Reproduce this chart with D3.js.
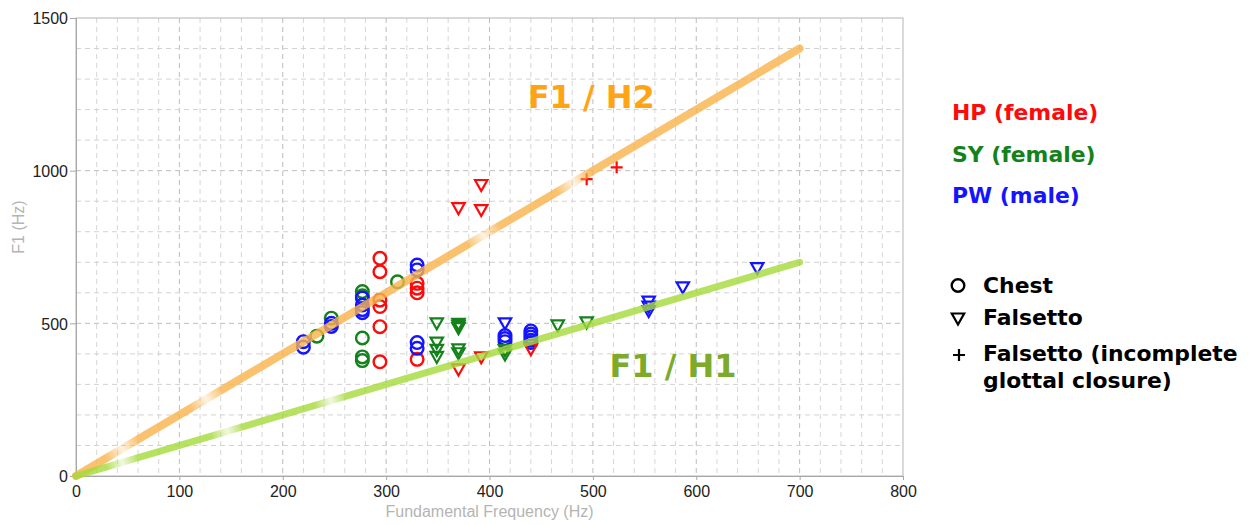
<!DOCTYPE html>
<html>
<head>
<meta charset="utf-8">
<script src="https://cdn.jsdelivr.net/npm/d3@7"></script>
<style>
  html, body { margin: 0; padding: 0; background: #fff; }
  svg { display: block; }
  .tick text { font-family: "Liberation Sans", Arial, sans-serif; font-size: 16px; fill: #222; }
  .axis-title { font-family: "Liberation Sans", Arial, sans-serif; font-size: 16px; fill: #b4b4b4; }
  .legend-text { font-family: "DejaVu Sans", sans-serif; font-weight: bold; font-size: 21.9px; }
  .ratio-label { font-family: "DejaVu Sans", sans-serif; font-weight: bold; font-size: 32px; }
</style>
</head>
<body>
<div id="chart"></div>
<script>
// ---- data: [fundamental frequency (Hz), F1 (Hz)] ----
const hpChest     = [[294,713],[294,669],[294,576],[294,555],[294,489],[294,374],
                     [330,631],[330,615],[330,600],[330,382]];
const hpFalsetto  = [[370,877],[370,349],[392,953],[392,871],[392,389],[440,415]];
const hpIncomplete = [[494,972],[523,1011]];

const syChest     = [[233,458],[247,517],[277,604],[277,590],[277,452],[277,390],[277,378],[311,636]];
const syFalsetto  = [[349,500],[349,437],[349,413],[349,390],
                     [370,498],[370,492],[370,484],[370,415],[370,402],
                     [415,412],[415,398],[466,493],[494,503]];

const pwChest     = [[220,440],[220,422],[247,500],[247,490],
                     [277,583],[277,560],[277,545],[277,535],
                     [330,691],[330,675],[330,437],[330,418],
                     [415,460],[415,450],[415,440],
                     [440,475],[440,465],[440,455],[440,445],[440,437]];
const pwFalsetto  = [[415,500],[554,571],[554,555],[554,540],[587,618],[659,681]];

// harmonic reference lines F1 = n * f0
const harmonics = [2, 1];
const harmonicNames = ["F1 / H2", "F1 / H1"];
const lineEndF0 = 700;

const xTicks = [0, 100, 200, 300, 400, 500, 600, 700, 800];
const yTicks = [0, 500, 1000, 1500];

const speakers = ["HP (female)", "SY (female)", "PW (male)"];
const phonations = ["Chest", "Falsetto", "Falsetto (incomplete", "glottal closure)"];

// ---- layout ----
const W = 1251, H = 525;
const margin = {top: 18, right: 348, bottom: 49, left: 76};
const innerW = W - margin.left - margin.right;
const innerH = H - margin.top - margin.bottom;

const colors = {HP: "#ff0a0a", SY: "#14821a", PW: "#1414ff"};

const svg = d3.select("#chart").append("svg")
    .attr("width", W).attr("height", H);

const g = svg.append("g")
    .attr("transform", "translate(" + margin.left + "," + margin.top + ")");

const x = d3.scaleLinear().domain([0, 800]).range([0, innerW]);
const y = d3.scaleLinear().domain([0, 1500]).range([innerH, 0]);

// grid
const vGrid = d3.range(20, 800, 20);
const hGrid = d3.range(100, 1500, 100);
g.append("g").selectAll("line").data(vGrid).enter().append("line")
    .attr("x1", d => x(d)).attr("x2", d => x(d))
    .attr("y1", 0).attr("y2", innerH)
    .attr("stroke", d => d % 100 === 0 ? "#bdbdbd" : "#d6d6d6")
    .attr("stroke-dasharray", "5,4");
g.append("g").selectAll("line").data(hGrid).enter().append("line")
    .attr("x1", 0).attr("x2", innerW)
    .attr("y1", d => y(d)).attr("y2", d => y(d))
    .attr("stroke", d => d % 500 === 0 ? "#bdbdbd" : "#d2d2d2")
    .attr("stroke-dasharray", "5,4");

// frame
g.append("rect")
    .attr("x", 0).attr("y", 0).attr("width", innerW).attr("height", innerH)
    .attr("fill", "none").attr("stroke", "#b4b4b4");

// axes
const xAxis = g.append("g")
    .attr("transform", "translate(0," + innerH + ")")
    .call(d3.axisBottom(x).tickValues(xTicks).tickFormat(d3.format("d")).tickSize(4).tickPadding(6));
const yAxis = g.append("g")
    .call(d3.axisLeft(y).tickValues(yTicks).tickFormat(d3.format("d")).tickSize(6).tickPadding(2));
[xAxis, yAxis].forEach(a => {
    a.select(".domain").attr("stroke", "#a8a8a8");
    a.selectAll(".tick line").attr("stroke", "#a8a8a8");
});
yAxis.selectAll(".tick text").attr("dy", "0.36em");

g.append("text").classed("axis-title", true)
    .attr("x", innerW / 2).attr("y", innerH + 41)
    .attr("text-anchor", "middle")
    .text("Fundamental Frequency (Hz)");
g.append("text").classed("axis-title", true)
    .attr("transform", "translate(" + (-52) + "," + (innerH / 2 - 20) + ") rotate(-90)")
    .attr("text-anchor", "middle")
    .text("F1 (Hz)");

// harmonic lines as soft brush strokes (drawn with partial fades)
const lineStyles = [
    {color: "#f9b44c", fades: [0.064, 0.18, 0.563, 0.687], labelColor: "#ffa414", label: [437, 1205]},
    {color: "#a6da3a", fades: [0.064, 0.209, 0.352], labelColor: "#7daa2b", label: [516, 324]}
];
const defs = svg.append("defs");
const lineLayer = g.append("g");
harmonics.forEach((n, i) => {
    const st = lineStyles[i];
    const grad = defs.append("linearGradient")
        .attr("id", "grad" + i)
        .attr("gradientUnits", "userSpaceOnUse")
        .attr("x1", x(0)).attr("y1", y(0))
        .attr("x2", x(lineEndF0)).attr("y2", y(lineEndF0 * n));
    grad.append("stop").attr("offset", 0).attr("stop-color", st.color).attr("stop-opacity", 1);
    st.fades.forEach(f => {
        grad.append("stop").attr("offset", f - 0.022).attr("stop-color", st.color).attr("stop-opacity", 1);
        grad.append("stop").attr("offset", f).attr("stop-color", st.color).attr("stop-opacity", 0.2);
        grad.append("stop").attr("offset", f + 0.022).attr("stop-color", st.color).attr("stop-opacity", 1);
    });
    grad.append("stop").attr("offset", 1).attr("stop-color", st.color).attr("stop-opacity", 1);

    lineLayer.append("line")
        .attr("x1", x(0)).attr("y1", y(0))
        .attr("x2", x(lineEndF0)).attr("y2", y(lineEndF0 * n))
        .attr("stroke", "url(#grad" + i + ")")
        .attr("stroke-width", n === 2 ? 8 : 7)
        .attr("stroke-linecap", "round")
        .attr("opacity", 0.8);

    g.append("text").classed("ratio-label", true)
        .attr("x", x(st.label[0])).attr("y", y(st.label[1]))
        .attr("fill", st.labelColor)
        .text(harmonicNames[i]);
});

// markers
const pointLayer = g.append("g");
function drawMarkers(layer, pts, kind, color) {
    const sel = layer.append("g").selectAll("path").data(pts).enter();
    if (kind === "circle") {
        sel.append("circle")
            .attr("cx", d => x(d[0])).attr("cy", d => y(d[1]))
            .attr("r", 6.3)
            .attr("fill", "none").attr("stroke", color).attr("stroke-width", 2.4);
    } else if (kind === "tri") {
        sel.append("path")
            .attr("transform", d => "translate(" + x(d[0]) + "," + y(d[1]) + ")")
            .attr("d", "M-6.2,-5L6.2,-5L0,6Z")
            .attr("fill", "none").attr("stroke", color).attr("stroke-width", 2.2)
            .attr("stroke-linejoin", "miter");
    } else {
        sel.append("path")
            .attr("transform", d => "translate(" + x(d[0]) + "," + y(d[1]) + ")")
            .attr("d", "M-6,0L6,0M0,-6L0,6")
            .attr("stroke", color).attr("stroke-width", 2.2);
    }
}
drawMarkers(pointLayer, syChest, "circle", colors.SY);
drawMarkers(pointLayer, hpChest, "circle", colors.HP);
drawMarkers(pointLayer, pwChest, "circle", colors.PW);
drawMarkers(pointLayer, syFalsetto, "tri", colors.SY);
drawMarkers(pointLayer, hpFalsetto, "tri", colors.HP);
drawMarkers(pointLayer, pwFalsetto, "tri", colors.PW);
drawMarkers(pointLayer, hpIncomplete, "plus", colors.HP);

// keep the translucent harmonic strokes above the markers
lineLayer.raise();

// legend
const legend = svg.append("g");
const speakerColors = [colors.HP, colors.SY, colors.PW];
legend.selectAll("text.spk").data(speakers).enter().append("text")
    .classed("legend-text", true)
    .attr("x", 952).attr("y", (d, i) => 120 + i * 41.5)
    .attr("fill", (d, i) => speakerColors[i])
    .text(d => d);

const phonY = [293, 325, 361, 388];
legend.selectAll("text.ph").data(phonations).enter().append("text")
    .classed("legend-text", true)
    .attr("x", 983).attr("y", (d, i) => phonY[i])
    .attr("fill", "#000")
    .text(d => d);
const legendMarks = [["circle", 958, 285.5], ["tri", 958, 318.5], ["plus", 959, 355]];
legendMarks.forEach(m => {
    drawMarkers(legend, [[x.invert(m[1] - margin.left), y.invert(m[2] - margin.top)]], m[0], "#000");
    legend.select("g:last-child").attr("transform", "translate(" + margin.left + "," + margin.top + ")");
});
</script>
</body>
</html>
